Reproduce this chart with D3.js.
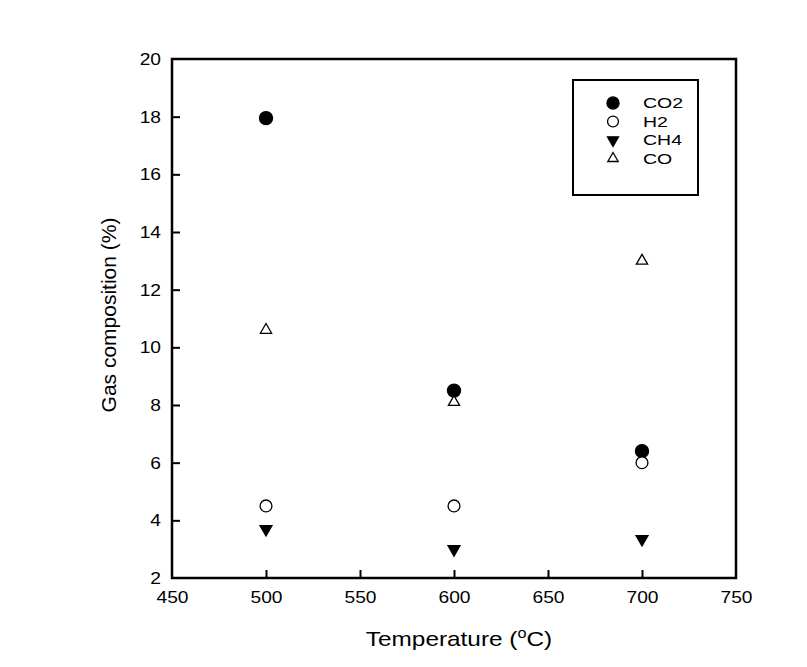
<!DOCTYPE html>
<html>
<head>
<meta charset="utf-8">
<script src="https://cdn.jsdelivr.net/npm/d3@7"></script>
<style>
  body { margin: 0; background: #fff; }
  text { font-family: "Liberation Sans", Arial, sans-serif; fill: #000; }
</style>
</head>
<body>
<svg id="graph" width="807" height="667"></svg>
<script>
// data
var temps = [500, 600, 700];
var co2 = [17.95, 8.5, 6.4];
var h2 = [4.5, 4.5, 6.0];
var ch4 = [3.7, 3.0, 3.35];
var co = [10.6, 8.1, 13.0];
var seriesNames = ["CO2", "H2", "CH4", "CO"];
var xTicks = [450, 500, 550, 600, 650, 700, 750];
var yTicks = [2, 4, 6, 8, 10, 12, 14, 16, 18, 20];

var margin = {left: 172, top: 59, right: 736, bottom: 578};
var svg = d3.select("#graph");

var xScale = d3.scaleLinear().domain([450, 750]).range([margin.left, margin.right]);
var yScale = d3.scaleLinear().domain([2, 20]).range([margin.bottom, margin.top]);

//the original text is a bit wide, so stretch it sideways
var wide = 1.2;

//markers for each series
var styles = {
    CO2: {sym: d3.symbolCircle, size: 135, fill: "#000", rot: 0},
    H2: {sym: d3.symbolCircle, size: 110, fill: "#fff", rot: 0},
    CH4: {sym: d3.symbolTriangle, size: 62, fill: "#000", rot: 180},
    CO: {sym: d3.symbolTriangle, size: 55, fill: "#fff", rot: 0}
};
var seriesData = {CO2: co2, H2: h2, CH4: ch4, CO: co};

//axes, ticks pointing inward
var xAxis = d3.axisBottom(xScale).tickValues(xTicks).tickSize(-8).tickPadding(14);
var yAxis = d3.axisLeft(yScale).tickValues(yTicks).tickSize(-8).tickPadding(11);

var gx = svg.append("g").attr("transform", "translate(0," + margin.bottom + ")").call(xAxis);
var gy = svg.append("g").attr("transform", "translate(" + margin.left + ",0)").call(yAxis);
[gx, gy].forEach(function(g){
    g.select(".domain").remove();
    g.selectAll(".tick line").attr("stroke", "#000").attr("stroke-width", 2);
    g.selectAll(".tick text").style("font-size", "16px").attr("fill", "#000");
});
gx.selectAll(".tick line").filter(function(d){ return d == 450 || d == 750; }).remove();
gy.selectAll(".tick line").filter(function(d){ return d == 2 || d == 20; }).remove();
gx.selectAll(".tick text").attr("transform", "scale(" + wide + ",1)");
gy.selectAll(".tick text")
    .attr("dy", "0.35em")
    .attr("x", 0)
    .attr("transform", "translate(-11,0) scale(" + wide + ",1)");

//frame
svg.append("rect")
    .attr("x", margin.left).attr("y", margin.top)
    .attr("width", margin.right - margin.left)
    .attr("height", margin.bottom - margin.top)
    .attr("fill", "none").attr("stroke", "#000").attr("stroke-width", 2.5);

//points
seriesNames.forEach(function(name){
    var st = styles[name];
    svg.append("g").selectAll("path")
        .data(seriesData[name])
        .enter()
        .append("path")
        .attr("d", d3.symbol().type(st.sym).size(st.size))
        .attr("transform", function(v, i){
            return "translate(" + xScale(temps[i]) + "," + yScale(v) + ") rotate(" + st.rot + ")";
        })
        .attr("fill", st.fill)
        .attr("stroke", "#000")
        .attr("stroke-width", 1.3);
});

//legend
var legend = svg.append("g");
legend.append("rect")
    .attr("x", 573).attr("y", 80).attr("width", 125).attr("height", 115)
    .attr("fill", "#fff").attr("stroke", "#000").attr("stroke-width", 2);
seriesNames.forEach(function(name, i){
    var st = styles[name];
    var y = 103 + i * 18.5;
    legend.append("path")
        .attr("d", d3.symbol().type(st.sym).size(st.size * 0.85))
        .attr("transform", "translate(613," + y + ") rotate(" + st.rot + ")")
        .attr("fill", st.fill).attr("stroke", "#000").attr("stroke-width", 1.3);
    legend.append("text")
        .attr("transform", "translate(643," + y + ") scale(1.3,1)")
        .attr("dy", "0.36em")
        .style("font-size", "15px")
        .text(name);
});

//axis titles
var xt = svg.append("text")
    .attr("transform", "translate(459,646) scale(1.16,1)")
    .attr("text-anchor", "middle")
    .style("font-size", "21px");
xt.append("tspan").text("Temperature (");
xt.append("tspan").attr("dy", -8).style("font-size", "14px").text("o");
xt.append("tspan").attr("dy", 8).text("C)");

svg.append("text")
    .attr("transform", "translate(116,315) rotate(-90)")
    .attr("text-anchor", "middle")
    .style("font-size", "21px")
    .text("Gas composition (%)");
</script>
</body>
</html>
